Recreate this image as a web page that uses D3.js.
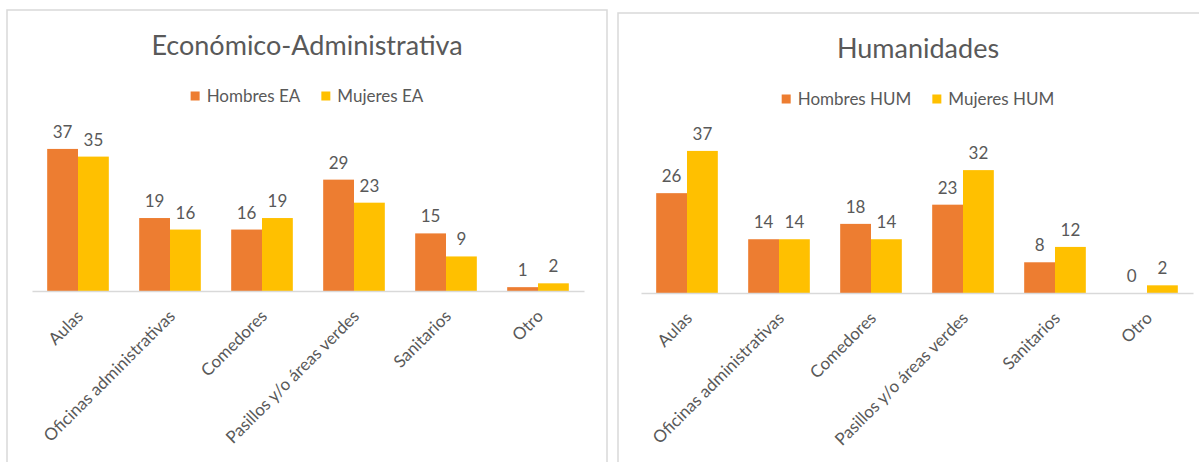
<!DOCTYPE html>
<html>
<head>
<meta charset="utf-8">
<script src="https://cdn.jsdelivr.net/npm/d3@7"></script>
<style>
	body { margin: 0; background: #fff; }
	svg text { font-family: Lato, "Open Sans", sans-serif; fill: #595959; }
</style>
</head>
<body>
<svg id="chart" width="1199" height="462"></svg>
<script>
(function(d3) {
	'use strict';

	var categories = ['Aulas', 'Oficinas administrativas', 'Comedores', 'Pasillos y/o áreas verdes', 'Sanitarios', 'Otro'];
	var hombresEA = [37, 19, 16, 29, 15, 1];
	var mujeresEA = [35, 16, 19, 23, 9, 2];
	var hombresHUM = [26, 14, 18, 23, 8, 0];
	var mujeresHUM = [37, 14, 14, 32, 12, 2];
	var seriesColors = ['#ED7D31', '#FFC000'];

	var svg = d3.select('#chart');

	/** one chart panel */
	var drawPanel = function(opts) {
		var g = svg.append('g');

		g.append('rect')
			.attr('x', opts.left).attr('y', opts.top)
			.attr('width', opts.width).attr('height', 520)
			.attr('fill', '#fff').attr('stroke', '#d9d9d9').attr('stroke-width', 1.5);

		var cx = opts.left + opts.width / 2;
		g.append('text')
			.attr('x', cx).attr('y', opts.top + 45)
			.attr('text-anchor', 'middle')
			.style('font-size', '27px')
			.text(opts.title);

		// legend, laid out after measuring text
		var legend = g.append('g').attr('transform', 'translate(0,' + (opts.top + 86) + ')');
		var items = legend.selectAll('g').data(opts.names).enter().append('g');
		items.append('rect')
			.attr('y', -4.5).attr('width', 9).attr('height', 9)
			.attr('fill', function(d, i) { return seriesColors[i]; });
		items.append('text')
			.attr('x', 16).attr('dy', '0.35em')
			.style('font-size', '17px')
			.text(function(d) { return d; });
		var offset = 0, widths = [];
		items.each(function() {
			widths.push(16 + d3.select(this).select('text').node().getComputedTextLength());
		});
		var total = d3.sum(widths) + 21 * (widths.length - 1);
		items.attr('transform', function(d, i) {
			var x = cx - total / 2 + offset;
			offset += widths[i] + 21;
			return 'translate(' + x + ',0)';
		});

		// scales
		var x = d3.scaleBand().domain(categories)
			.range([opts.plotX, opts.plotX + 552])
			.paddingInner(0.33).paddingOuter(0.165);
		var xs = d3.scaleBand().domain([0, 1]).range([0, x.bandwidth()]);
		var y = d3.scaleLinear().domain([0, 40]).range([opts.baseY, opts.baseY - 153.6]);

		var groups = g.selectAll('.cat').data(categories).enter().append('g')
			.attr('transform', function(d) { return 'translate(' + x(d) + ',0)'; });
		var cells = groups.selectAll('g').data(function(d, ci) {
			return opts.values.map(function(arr, si) { return { s: si, v: arr[ci] }; });
		}).enter().append('g');
		cells.append('rect')
			.attr('x', function(d) { return xs(d.s); })
			.attr('y', function(d) { return y(d.v); })
			.attr('width', xs.bandwidth())
			.attr('height', function(d) { return y(0) - y(d.v); })
			.attr('fill', function(d) { return seriesColors[d.s]; });
		cells.append('text')
			.attr('x', function(d) { return xs(d.s) + xs.bandwidth() / 2; })
			.attr('y', function(d) { return y(d.v) - 11; })
			.attr('text-anchor', 'middle')
			.style('font-size', '17px')
			.text(function(d) { return d.v; });

		// axis
		var axis = g.append('g')
			.attr('transform', 'translate(0,' + opts.baseY + ')')
			.call(d3.axisBottom(x).tickSize(0).tickSizeOuter(0));
		axis.attr('font-family', null).attr('font-size', null);
		axis.select('.domain').attr('stroke', '#d9d9d9').attr('stroke-width', 1.5);
		axis.selectAll('.tick text')
			.attr('x', 0).attr('y', 0).attr('dy', '0.35em')
			.attr('text-anchor', 'end')
			.attr('transform', 'translate(2,22) rotate(-45)')
			.style('font-size', '17px')
			.attr('fill', '#595959');
	};

	drawPanel({
		left: 7, top: 10, width: 600,
		plotX: 32, baseY: 291,
		title: 'Económico-Administrativa',
		names: ['Hombres EA', 'Mujeres EA'],
		values: [hombresEA, mujeresEA]
	});
	drawPanel({
		left: 618, top: 13, width: 600,
		plotX: 641, baseY: 293,
		title: 'Humanidades',
		names: ['Hombres HUM', 'Mujeres HUM'],
		values: [hombresHUM, mujeresHUM]
	});
})(d3);
</script>
</body>
</html>
